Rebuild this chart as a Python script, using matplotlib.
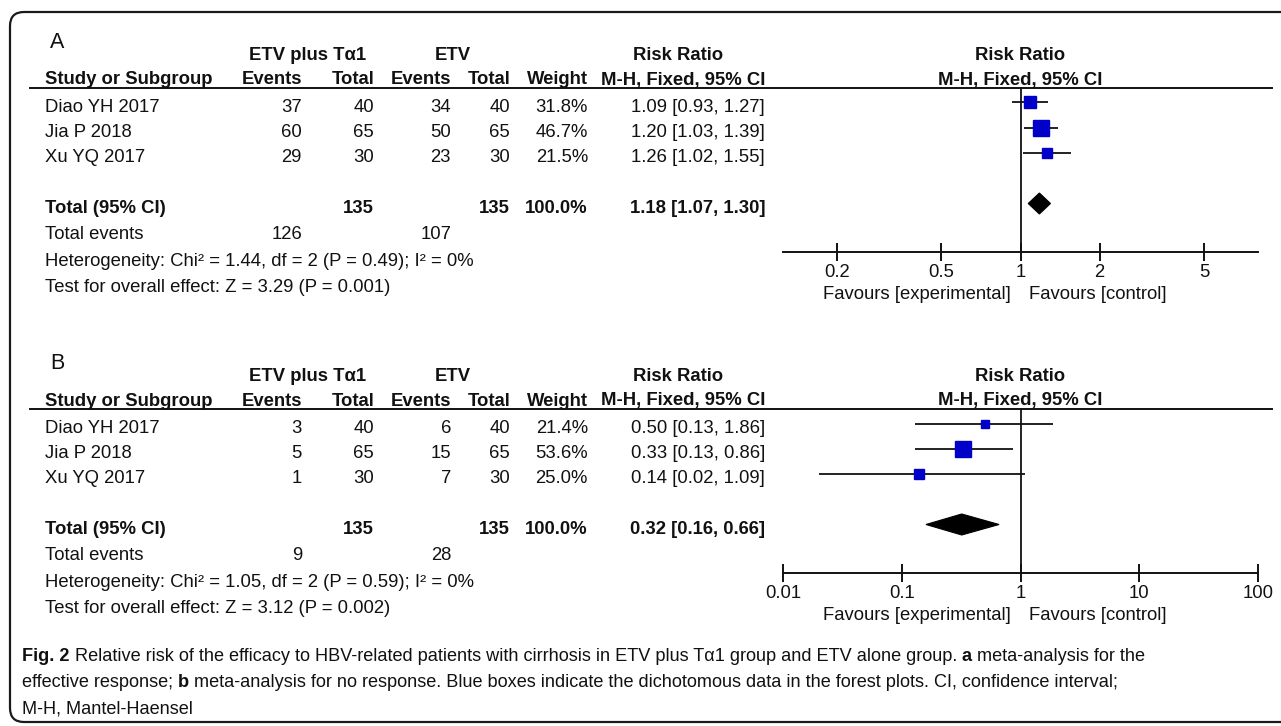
import matplotlib
matplotlib.use('Agg')
import matplotlib.pyplot as plt
from matplotlib.patches import FancyBboxPatch, Polygon
from matplotlib.ticker import NullLocator, FixedLocator, FixedFormatter

plt.rcParams['font.family'] = ['Liberation Sans', 'DejaVu Sans']

# ---------------- data ----------------
studies = ['Diao YH 2017', 'Jia P 2018', 'Xu YQ 2017']
group_exp = 'ETV plus T\u03b11'
group_ctl = 'ETV'

# Panel A: effective response
a_exp_events = [37, 60, 29]
a_exp_total = [40, 65, 30]
a_ctl_events = [34, 50, 23]
a_ctl_total = [40, 65, 30]
a_weight = [31.8, 46.7, 21.5]
a_rr = [1.09, 1.20, 1.26]
a_lo = [0.93, 1.03, 1.02]
a_hi = [1.27, 1.39, 1.55]
a_total = [1.18, 1.07, 1.30]          # pooled RR, lower, upper
a_total_n = [135, 135]
a_total_events = [126, 107]
a_het = 'Heterogeneity: Chi\u00b2 = 1.44, df = 2 (P = 0.49); I\u00b2 = 0%'
a_test = 'Test for overall effect: Z = 3.29 (P = 0.001)'
a_ticks = [0.2, 0.5, 1, 2, 5]
a_ticklabels = ['0.2', '0.5', '1', '2', '5']
a_xlim = [0.125, 8]

# Panel B: no response
b_exp_events = [3, 5, 1]
b_exp_total = [40, 65, 30]
b_ctl_events = [6, 15, 7]
b_ctl_total = [40, 65, 30]
b_weight = [21.4, 53.6, 25.0]
b_rr = [0.50, 0.33, 0.14]
b_lo = [0.13, 0.13, 0.02]
b_hi = [1.86, 0.86, 1.09]
b_total = [0.32, 0.16, 0.66]
b_total_n = [135, 135]
b_total_events = [9, 28]
b_het = 'Heterogeneity: Chi\u00b2 = 1.05, df = 2 (P = 0.59); I\u00b2 = 0%'
b_test = 'Test for overall effect: Z = 3.12 (P = 0.002)'
b_ticks = [0.01, 0.1, 1, 10, 100]
b_ticklabels = ['0.01', '0.1', '1', '10', '100']
b_xlim = [0.01, 100]

caption_lines = [
    [('Fig. 2', True), (' Relative risk of the efficacy to HBV-related patients with cirrhosis in ETV plus T\u03b11 group and ETV alone group. ', False),
     ('a', True), (' meta-analysis for the', False)],
    [('effective response; ', False), ('b', True),
     (' meta-analysis for no response. Blue boxes indicate the dichotomous data in the forest plots. CI, confidence interval;', False)],
    [('M-H, Mantel-Haensel', False)],
]

# ---------------- layout ----------------
W, H = 1281, 726
fig = plt.figure(figsize=(W / 100, H / 100), dpi=100)
ax0 = fig.add_axes([0, 0, 1, 1])
ax0.set_xlim(0, W)
ax0.set_ylim(H, 0)
ax0.axis('off')

BLUE = '#0000c8'
INK = '#111111'
FS = 13.3
# vertical centres (px, relative to panel top) of the 8 table rows (row 3 is blank)
ROW_Y = [105, 130.3, 155.6, 181, 206, 232.5, 259, 285.5]
MARK_SHIFT = -2.5

box = FancyBboxPatch((10, 12), 1330, 710, boxstyle='round,pad=0,rounding_size=14',
                     fill=False, ec='#1a1a1a', lw=1.6)
ax0.add_patch(box)

# column right edges
X_NAME = 45
X_EE, X_ET, X_CE, X_CT, X_W, X_RR = 302, 374, 451, 510, 588, 765
PLOT_L, PLOT_R, PLOT_C = 783, 1258, 1020


def txt(x, y, s, ha='right', bold=False, size=FS, **kw):
    ax0.text(x, y, s, ha=ha, va='baseline', fontsize=size,
             fontweight='bold' if bold else 'normal', color=INK, **kw)


def panel(off, label, ee, et, ce, ct, w, rr, lo, hi, tot, tot_n, tot_ev, het, test,
          ticks, ticklabels, xlim):
    txt(50, off + 48, label, ha='left', size=15.5)
    gy = off + 60
    txt((242 + X_ET) / 2, gy, group_exp, ha='center', bold=True)
    txt((395 + X_CT) / 2, gy, group_ctl, ha='center', bold=True)
    txt(678, gy, 'Risk Ratio', ha='center', bold=True)
    txt(PLOT_C, gy, 'Risk Ratio', ha='center', bold=True)
    hy = off + 84.5
    txt(X_NAME, hy, 'Study or Subgroup', ha='left', bold=True)
    for x, s in [(X_EE, 'Events'), (X_ET, 'Total'), (X_CE, 'Events'), (X_CT, 'Total'),
                 (X_W, 'Weight'), (X_RR, 'M-H, Fixed, 95% CI')]:
        txt(x, hy, s, bold=True)
    txt(PLOT_C, hy, 'M-H, Fixed, 95% CI', ha='center', bold=True)
    line_y = off + 87.5
    ax0.plot([30, 1272], [line_y, line_y], color=INK, lw=1.4)

    rows = [off + r for r in ROW_Y]
    base = 6.8
    for i, name in enumerate(studies):
        y = rows[i] + base
        txt(X_NAME, y, name, ha='left')
        txt(X_EE, y, str(ee[i]))
        txt(X_ET, y, str(et[i]))
        txt(X_CE, y, str(ce[i]))
        txt(X_CT, y, str(ct[i]))
        txt(X_W, y, f'{w[i]:.1f}%')
        txt(X_RR, y, f'{rr[i]:.2f} [{lo[i]:.2f}, {hi[i]:.2f}]')
    y = rows[4] + base
    txt(X_NAME, y, 'Total (95% CI)', ha='left', bold=True)
    txt(X_ET, y, str(tot_n[0]), bold=True)
    txt(X_CT, y, str(tot_n[1]), bold=True)
    txt(X_W, y, f'{sum(w):.1f}%', bold=True)
    txt(X_RR, y, f'{tot[0]:.2f} [{tot[1]:.2f}, {tot[2]:.2f}]', bold=True)
    y = rows[5] + base
    txt(X_NAME, y, 'Total events', ha='left')
    txt(X_EE, y, str(tot_ev[0]))
    txt(X_CE, y, str(tot_ev[1]))
    txt(X_NAME, rows[6] + base, het, ha='left')
    txt(X_NAME, rows[7] + base, test, ha='left')

    # forest plot
    axis_y = off + 252
    ax = fig.add_axes([PLOT_L / W, 1 - axis_y / H, (PLOT_R - PLOT_L) / W,
                       (axis_y - line_y) / H])
    ax.patch.set_alpha(0)
    ax.set_xscale('log')
    ax.set_xlim(xlim)
    ax.set_ylim(axis_y, line_y)
    for s in ['top', 'left', 'right']:
        ax.spines[s].set_visible(False)
    ax.spines['bottom'].set_linewidth(1.4)
    ax.spines['bottom'].set_color(INK)
    ax.xaxis.set_major_locator(FixedLocator(ticks))
    ax.xaxis.set_major_formatter(FixedFormatter(ticklabels))
    ax.xaxis.set_minor_locator(NullLocator())
    ax.set_yticks([])
    ax.tick_params(axis='x', direction='inout', length=13, width=1.4,
                   labelsize=FS, pad=2.5, colors=INK)
    ax.axvline(1, color=INK, lw=1.3)
    wmax = max(w)
    for i in range(len(studies)):
        y = rows[i] + MARK_SHIFT
        ax.plot([lo[i], hi[i]], [y, y], color=INK, lw=1.3, solid_capstyle='butt')
        side_px = 16 * (w[i] / wmax) ** 0.7
        ax.plot([rr[i]], [y], marker='s', ms=side_px * 72 / 100, color=BLUE,
                mec=BLUE, lw=0)
    yd = rows[4] + MARK_SHIFT
    hh = 10.5
    ax.add_patch(Polygon([(tot[1], yd), (tot[0], yd - hh), (tot[2], yd), (tot[0], yd + hh)],
                         closed=True, fc='black', ec='black', lw=0.8))
    fy = off + 299
    txt(PLOT_C - 9, fy, 'Favours [experimental]', ha='right')
    txt(PLOT_C + 9, fy, 'Favours [control]', ha='left')


panel(0, 'A', a_exp_events, a_exp_total, a_ctl_events, a_ctl_total, a_weight, a_rr,
      a_lo, a_hi, a_total, a_total_n, a_total_events, a_het, a_test,
      a_ticks, a_ticklabels, a_xlim)
panel(321, 'B', b_exp_events, b_exp_total, b_ctl_events, b_ctl_total, b_weight, b_rr,
      b_lo, b_hi, b_total, b_total_n, b_total_events, b_het, b_test,
      b_ticks, b_ticklabels, b_xlim)

# caption with mixed bold pieces, first line fitted to the reference width
fig.canvas.draw()
r = fig.canvas.get_renderer()
CAP_FONT = ['Liberation Sans', 'DejaVu Sans']
CAP_X0, CAP_LINE1_W = 22, 1118


def draw_line(line, yy, size, keep=True):
    x = CAP_X0
    arts = []
    for s, b in line:
        t = ax0.text(x, yy, s, ha='left', va='baseline', fontsize=size,
                     family=CAP_FONT, fontweight='bold' if b else 'normal', color=INK)
        arts.append(t)
        x += t.get_window_extent(renderer=r).width
    if not keep:
        for t in arts:
            t.remove()
    return x - CAP_X0


probe = 13.6
w1 = draw_line(caption_lines[0], 0, probe, keep=False)
CAP_FS = probe * CAP_LINE1_W / w1
cap_y = [661, 687, 713]
for line, yy in zip(caption_lines, cap_y):
    draw_line(line, yy, CAP_FS)

fig.savefig('out.png', dpi=100)
